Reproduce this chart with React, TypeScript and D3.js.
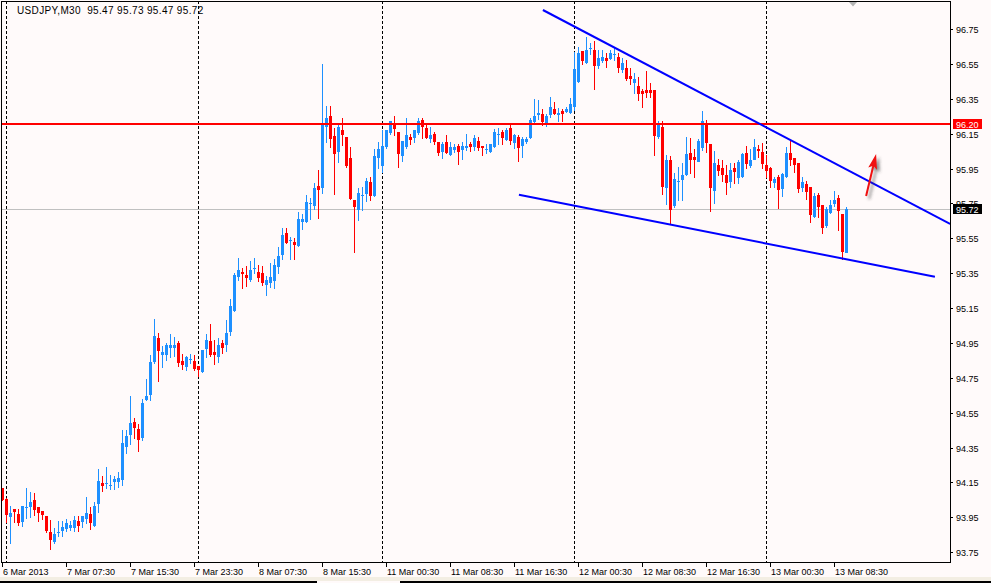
import { useRef, useEffect } from "react";
import * as d3 from "d3";

// USDJPY M30, one entry per bar (bar 0 = 6 Mar 23:30)
const title = "USDJPY,M30  95.47 95.73 95.47 95.72";

const opens = [
  94.12, 94.055, 93.953, 93.997, 93.969, 93.925, 94.005, 94.011, 94.049, 94.009,
  93.988, 93.959, 93.864, 93.81, 93.862, 93.873, 93.883, 93.89, 93.887, 93.929,
  93.925, 93.942, 93.969, 93.902, 94.024, 94.146, 94.143, 94.133, 94.152, 94.154,
  94.166, 94.355, 94.422, 94.496, 94.456, 94.406, 94.624, 94.653, 94.84, 94.978,
  94.882, 94.882, 94.92, 94.922, 94.949, 94.846, 94.813, 94.854, 94.846, 94.817,
  94.785, 94.915, 94.961, 94.896, 94.865, 94.948, 94.934, 95.015, 95.135, 95.326,
  95.359, 95.339, 95.311, 95.376, 95.357, 95.353, 95.282, 95.296, 95.307, 95.387,
  95.454, 95.58, 95.538, 95.531, 95.508, 95.643, 95.645, 95.748, 95.735, 95.85,
  95.834, 96.184, 96.251, 96.137, 96.047, 96.169, 96.131, 96.009, 95.768, 95.712,
  95.795, 95.802, 95.873, 95.791, 96.007, 95.967, 96.07, 96.156, 96.211, 96.161,
  96.02, 96.075, 96.133, 96.127, 96.156, 96.226, 96.184, 96.117, 96.149, 96.102,
  96.046, 96.1, 96.029, 96.056, 96.079, 96.056, 96.069, 96.09, 96.069, 96.107,
  96.079, 96.06, 96.046, 96.075, 96.144, 96.159, 96.113, 96.18, 96.098, 96.132,
  96.075, 96.102, 96.125, 96.218, 96.256, 96.262, 96.203, 96.256, 96.291, 96.256,
  96.281, 96.274, 96.27, 96.3, 96.446, 96.623, 96.556, 96.635, 96.629, 96.539,
  96.566, 96.583, 96.577, 96.6, 96.591, 96.514, 96.528, 96.48, 96.438, 96.423,
  96.396, 96.4, 96.4, 96.4, 96.126, 96.19, 95.836, 95.998, 95.735, 95.874,
  95.884, 95.912, 96.037, 96.014, 95.991, 96.065, 96.209, 96.09, 95.817, 95.97,
  95.951, 95.913, 95.874, 95.951, 95.899, 95.899, 96.041, 95.964, 96.003, 96.06,
  96.046, 95.97, 95.951, 95.869, 95.903, 95.831, 95.903, 96.037, 96.008, 95.983,
  95.842, 95.861, 95.846, 95.674, 95.798, 95.741, 95.617, 95.697, 95.746, 95.779,
  95.689, 95.47,
];

const highs = [
  94.12, 94.06, 94.015, 94.0, 93.997, 94.015, 94.12, 94.095, 94.089, 94.009,
  93.988, 93.959, 93.934, 93.887, 93.929, 93.929, 93.938, 93.929, 93.957, 93.957,
  93.957, 94.066, 94.011, 94.038, 94.227, 94.187, 94.238, 94.191, 94.189, 94.21,
  94.45, 94.45, 94.645, 94.519, 94.485, 94.63, 94.745, 94.882, 95.087, 95.006,
  94.932, 94.949, 95.0, 94.984, 94.961, 94.886, 94.875, 94.886, 94.88, 94.817,
  94.909, 95.0, 95.058, 94.967, 94.978, 94.967, 95.081, 95.202, 95.353, 95.437,
  95.378, 95.393, 95.42, 95.437, 95.397, 95.393, 95.334, 95.406, 95.431, 95.5,
  95.611, 95.609, 95.559, 95.553, 95.701, 95.691, 95.798, 95.781, 95.865, 95.941,
  96.549, 96.309, 96.309, 96.184, 96.2, 96.242, 96.131, 96.074, 95.768, 95.837,
  95.842, 95.898, 95.902, 96.062, 96.102, 96.173, 96.169, 96.223, 96.249, 96.161,
  96.108, 96.24, 96.146, 96.173, 96.242, 96.242, 96.209, 96.19, 96.161, 96.102,
  96.103, 96.142, 96.102, 96.09, 96.09, 96.1, 96.147, 96.103, 96.142, 96.13,
  96.079, 96.09, 96.09, 96.174, 96.182, 96.17, 96.182, 96.203, 96.147, 96.142,
  96.132, 96.132, 96.239, 96.348, 96.342, 96.289, 96.262, 96.36, 96.331, 96.298,
  96.291, 96.3, 96.356, 96.62, 96.644, 96.623, 96.702, 96.667, 96.681, 96.629,
  96.629, 96.61, 96.629, 96.642, 96.61, 96.585, 96.572, 96.528, 96.495, 96.472,
  96.404, 96.509, 96.442, 96.4, 96.224, 96.224, 96.027, 96.021, 95.922, 95.96,
  95.979, 96.128, 96.123, 96.06, 96.117, 96.281, 96.228, 96.09, 96.05, 96.003,
  95.999, 95.97, 95.98, 95.98, 95.999, 96.037, 96.079, 96.06, 96.119, 96.085,
  96.098, 96.027, 95.961, 95.903, 95.913, 95.922, 96.071, 96.11, 96.008, 95.983,
  95.903, 95.88, 95.846, 95.811, 95.811, 95.741, 95.731, 95.769, 95.819, 95.798,
  95.689, 95.73,
];

const lows = [
  94.05, 93.925, 93.804, 93.925, 93.906, 93.902, 93.948, 93.954, 93.963, 93.929,
  93.938, 93.864, 93.768, 93.804, 93.843, 93.843, 93.871, 93.875, 93.873, 93.873,
  93.892, 93.915, 93.885, 93.902, 93.982, 94.101, 94.116, 94.11, 94.112, 94.124,
  94.135, 94.317, 94.368, 94.406, 94.332, 94.395, 94.622, 94.624, 94.836, 94.733,
  94.813, 94.85, 94.869, 94.873, 94.815, 94.802, 94.792, 94.836, 94.796, 94.762,
  94.785, 94.871, 94.877, 94.827, 94.843, 94.894, 94.906, 94.995, 95.135, 95.311,
  95.267, 95.276, 95.307, 95.353, 95.303, 95.282, 95.225, 95.273, 95.267, 95.349,
  95.429, 95.521, 95.431, 95.431, 95.508, 95.605, 95.643, 95.662, 95.72, 95.668,
  95.808, 96.104, 96.074, 95.806, 95.99, 96.085, 95.961, 95.775, 95.473, 95.657,
  95.712, 95.766, 95.768, 95.791, 95.951, 95.928, 96.07, 96.15, 96.14, 95.957,
  95.995, 96.07, 96.093, 96.1, 96.146, 96.127, 96.126, 96.102, 96.088, 96.027,
  96.008, 96.037, 96.029, 96.046, 95.977, 96.006, 96.056, 96.05, 96.056, 96.056,
  96.027, 96.037, 96.046, 96.075, 96.092, 96.088, 96.113, 96.088, 96.065, 95.995,
  96.017, 96.098, 96.125, 96.218, 96.233, 96.199, 96.195, 96.247, 96.262, 96.222,
  96.224, 96.274, 96.27, 96.285, 96.446, 96.547, 96.556, 96.606, 96.405, 96.528,
  96.558, 96.53, 96.577, 96.572, 96.501, 96.501, 96.457, 96.434, 96.381, 96.342,
  96.304, 96.361, 96.361, 96.027, 96.126, 95.803, 95.746, 95.632, 95.731, 95.769,
  95.769, 95.912, 95.926, 95.899, 95.991, 96.056, 96.046, 95.708, 95.75, 95.913,
  95.88, 95.804, 95.846, 95.865, 95.865, 95.899, 95.951, 95.96, 96.003, 96.018,
  95.951, 95.903, 95.846, 95.846, 95.725, 95.792, 95.903, 95.97, 95.932, 95.817,
  95.823, 95.773, 95.645, 95.674, 95.674, 95.578, 95.617, 95.697, 95.735, 95.597,
  95.429, 95.47,
];

const closes = [
  94.05, 93.963, 93.976, 93.982, 93.915, 94.015, 94.009, 94.038, 93.992, 93.973,
  93.963, 93.873, 93.82, 93.854, 93.866, 93.894, 93.915, 93.906, 93.934, 93.9,
  93.957, 93.974, 93.915, 94.015, 94.158, 94.131, 94.146, 94.137, 94.17, 94.177,
  94.376, 94.416, 94.49, 94.464, 94.395, 94.605, 94.645, 94.84, 94.989, 94.903,
  94.898, 94.938, 94.938, 94.938, 94.836, 94.823, 94.869, 94.857, 94.802, 94.794,
  94.909, 94.966, 94.88, 94.877, 94.936, 94.917, 95.005, 95.162, 95.339, 95.368,
  95.347, 95.324, 95.368, 95.38, 95.324, 95.296, 95.311, 95.328, 95.397, 95.448,
  95.569, 95.525, 95.542, 95.511, 95.66, 95.66, 95.758, 95.752, 95.838, 95.829,
  96.203, 96.238, 96.118, 96.032, 96.188, 96.139, 95.967, 95.775, 95.726, 95.808,
  95.798, 95.879, 95.795, 96.022, 96.06, 96.079, 96.169, 96.223, 96.179, 96.032,
  96.108, 96.142, 96.116, 96.171, 96.223, 96.184, 96.126, 96.142, 96.103, 96.037,
  96.09, 96.037, 96.075, 96.075, 96.046, 96.081, 96.081, 96.073, 96.123, 96.069,
  96.069, 96.063, 96.09, 96.161, 96.147, 96.125, 96.172, 96.103, 96.142, 96.069,
  96.117, 96.119, 96.228, 96.251, 96.27, 96.218, 96.251, 96.3, 96.262, 96.268,
  96.262, 96.293, 96.32, 96.52, 96.61, 96.566, 96.629, 96.639, 96.539, 96.585,
  96.591, 96.568, 96.614, 96.604, 96.528, 96.553, 96.463, 96.463, 96.463, 96.377,
  96.381, 96.384, 96.384, 96.138, 96.203, 95.846, 95.998, 95.712, 95.891, 95.878,
  95.912, 96.033, 95.995, 95.995, 96.109, 96.22, 96.094, 95.836, 95.98, 95.937,
  95.913, 95.865, 95.941, 95.926, 95.989, 96.033, 95.98, 95.999, 96.075, 96.046,
  95.98, 95.936, 95.874, 95.89, 95.831, 95.918, 96.041, 95.995, 95.97, 95.836,
  95.874, 95.817, 95.683, 95.792, 95.727, 95.607, 95.716, 95.741, 95.769, 95.703,
  95.473, 95.72,
];

// right price axis
const priceTicks = [
  96.75, 96.55, 96.35, 96.15, 95.95, 95.75, 95.55, 95.35,
  95.15, 94.95, 94.75, 94.55, 94.35, 94.15, 93.95, 93.75,
];

// bottom time axis: bar index and text
const timeTickBars = [0, 16, 32, 48, 64, 80, 96, 112, 128, 144, 160, 176, 192, 208];
const timeTickLabels = [
  "6 Mar 2013", "7 Mar 07:30", "7 Mar 15:30", "7 Mar 23:30", "8 Mar 07:30",
  "8 Mar 15:30", "11 Mar 00:30", "11 Mar 08:30", "11 Mar 16:30", "12 Mar 00:30",
  "12 Mar 08:30", "12 Mar 16:30", "13 Mar 00:30", "13 Mar 08:30",
];

// first bar of each new day
const daySeparatorBars = [1, 49, 95, 143, 191];

const redLevel = 96.2;
const bidPrice = 95.72;

// [bar index, price] end points of drawn objects
const upperTrend: [number, number][] = [[135.1, 96.859], [236.9, 95.632]];
const lowerTrend: [number, number][] = [[129.1, 95.799], [233.1, 95.33]];
const arrowLine: [number, number][] = [[215.9, 95.792], [218.4, 96.033]];

export default function App() {
  const svgRef = useRef<SVGSVGElement>(null);
  const width = 991;
  const height = 583;

  useEffect(() => {
    if (!svgRef.current) return;
    const svg = d3.select(svgRef.current);
    svg.selectAll("*").remove();

    const plot = { left: 1, top: 1, right: 950, bottom: 562 };
    const font = "'Liberation Sans', Arial, sans-serif";

    const x = d3.scaleLinear().domain([0, 237]).range([2.5, 2.5 + 237 * 4]);
    const y = d3.scaleLinear().domain([93.75, 96.75]).range([552.2, 29]);

    svg.append("rect").attr("width", width).attr("height", height).attr("fill", "#FFFAFA");

    const defs = svg.append("defs");
    defs.append("clipPath").attr("id", "plotClip")
      .append("rect")
      .attr("x", plot.left + 0.5).attr("y", plot.top + 0.5)
      .attr("width", plot.right - plot.left - 0.5)
      .attr("height", plot.bottom - plot.top - 0.5);
    const blur = defs.append("filter").attr("id", "arrowShadow")
      .attr("x", "-50%").attr("y", "-50%").attr("width", "200%").attr("height", "200%");
    blur.append("feGaussianBlur").attr("stdDeviation", 1.6);

    const g = svg.append("g").attr("clip-path", "url(#plotClip)");

    // day separators
    g.append("g")
      .attr("shape-rendering", "crispEdges")
      .selectAll("line")
      .data(daySeparatorBars)
      .join("line")
      .attr("x1", (d) => Math.floor(x(d)) + 0.5)
      .attr("x2", (d) => Math.floor(x(d)) + 0.5)
      .attr("y1", plot.top)
      .attr("y2", plot.bottom)
      .attr("stroke", "#000")
      .attr("stroke-dasharray", "3,2");

    // bid line
    g.append("line")
      .attr("shape-rendering", "crispEdges")
      .attr("x1", plot.left).attr("x2", plot.right)
      .attr("y1", Math.round(y(bidPrice)) + 0.5).attr("y2", Math.round(y(bidPrice)) + 0.5)
      .attr("stroke", "#C0C0C0");

    // candles
    const bars = d3.range(opens.length).map((i) => ({
      i, o: opens[i], h: highs[i], l: lows[i], c: closes[i],
    }));
    const colour = (d: { o: number; c: number }) => (d.c >= d.o ? "#1E90FF" : "#FF0000");

    const candles = g.append("g").attr("shape-rendering", "crispEdges");
    candles.selectAll("line")
      .data(bars)
      .join("line")
      .attr("x1", (d) => x(d.i))
      .attr("x2", (d) => x(d.i))
      .attr("y1", (d) => Math.round(y(d.h)))
      .attr("y2", (d) => Math.round(y(d.l)) + 1)
      .attr("stroke", colour);
    candles.selectAll("rect")
      .data(bars)
      .join("rect")
      .attr("x", (d) => x(d.i) - 1.5)
      .attr("width", 3)
      .attr("y", (d) => Math.round(y(Math.max(d.o, d.c))))
      .attr("height", (d) => Math.max(1, Math.round(Math.abs(y(d.o) - y(d.c)))))
      .attr("fill", colour);

    // horizontal level
    const levelY = Math.round(y(redLevel)) - 1;
    g.append("line")
      .attr("shape-rendering", "crispEdges")
      .attr("x1", plot.left).attr("x2", plot.right)
      .attr("y1", levelY).attr("y2", levelY)
      .attr("stroke", "#FF0000")
      .attr("stroke-width", 2);

    // trend lines
    const line = d3.line<[number, number]>().x((d) => x(d[0])).y((d) => y(d[1]));
    [upperTrend, lowerTrend].forEach((t) => {
      g.append("path")
        .attr("d", line(t))
        .attr("fill", "none")
        .attr("stroke", "#0000FF")
        .attr("stroke-width", 2);
    });

    // arrow
    const [tx, ty] = [x(arrowLine[0][0]), y(arrowLine[0][1])];
    const [hx, hy] = [x(arrowLine[1][0]), y(arrowLine[1][1])];
    const len = Math.hypot(hx - tx, hy - ty);
    const ux = (hx - tx) / len;
    const uy = (hy - ty) / len;
    const headLen = 15;
    const headHalf = 4.5;
    const bx = hx - ux * headLen;
    const by = hy - uy * headLen;
    const head = [
      [hx, hy],
      [bx - uy * headHalf, by + ux * headHalf],
      [bx + ux * 3, by + uy * 3],
      [bx + uy * headHalf, by - ux * headHalf],
    ];
    const arrowG = (dx: number, dy: number, fill: string, filter?: string) => {
      const a = g.append("g").attr("transform", `translate(${dx},${dy})`);
      if (filter) a.attr("filter", filter);
      a.append("line")
        .attr("x1", tx).attr("y1", ty).attr("x2", bx + ux * 4).attr("y2", by + uy * 4)
        .attr("stroke", fill).attr("stroke-width", 2);
      a.append("path")
        .attr("d", "M" + head.map((p) => p.join(",")).join("L") + "Z")
        .attr("fill", fill);
    };
    arrowG(3, 3, "rgba(60,60,60,0.55)", "url(#arrowShadow)");
    arrowG(0, 0, "#F01010");

    // chart frame
    svg.append("rect")
      .attr("shape-rendering", "crispEdges")
      .attr("x", plot.left + 0.5).attr("y", plot.top + 0.5)
      .attr("width", plot.right - plot.left).attr("height", plot.bottom - plot.top)
      .attr("fill", "none").attr("stroke", "#000");

    // shift marker
    svg.append("path")
      .attr("d", "M849,2L857,2L853,6.5Z")
      .attr("fill", "#B4B4B4");

    // title
    svg.append("text")
      .attr("x", 17).attr("y", 13.5)
      .attr("font-family", font).attr("font-size", 10)
      .attr("letter-spacing", 0.35)
      .attr("fill", "#000")
      .attr("xml:space", "preserve")
      .style("white-space", "pre")
      .text(title);

    // price axis
    const pa = svg.append("g");
    pa.selectAll("line")
      .data(priceTicks)
      .join("line")
      .attr("shape-rendering", "crispEdges")
      .attr("x1", plot.right + 0.5).attr("x2", plot.right + 3)
      .attr("y1", (d) => Math.round(y(d)) + 0.5).attr("y2", (d) => Math.round(y(d)) + 0.5)
      .attr("stroke", "#000");
    pa.selectAll("text")
      .data(priceTicks)
      .join("text")
      .attr("x", 956)
      .attr("y", (d) => Math.round(y(d)) + 3.5)
      .attr("font-family", font).attr("font-size", 9)
      .attr("fill", "#000")
      .text((d) => d.toFixed(2));

    // price labels for the level and the bid
    const tag = (price: number, cy: number, fill: string) => {
      svg.append("rect")
        .attr("shape-rendering", "crispEdges")
        .attr("x", 953).attr("y", cy - 5).attr("width", 29).attr("height", 10)
        .attr("fill", fill);
      svg.append("text")
        .attr("x", 956).attr("y", cy + 3.5)
        .attr("font-family", font).attr("font-size", 9)
        .attr("fill", "#fff")
        .text(price.toFixed(2));
    };
    tag(redLevel, levelY, "#FF0000");
    tag(bidPrice, Math.round(y(bidPrice)), "#000000");

    // time axis
    const ta = svg.append("g");
    ta.selectAll("line")
      .data(timeTickBars)
      .join("line")
      .attr("shape-rendering", "crispEdges")
      .attr("x1", (d) => Math.floor(x(d)) + 0.5).attr("x2", (d) => Math.floor(x(d)) + 0.5)
      .attr("y1", plot.bottom + 0.5).attr("y2", plot.bottom + 5)
      .attr("stroke", "#000");
    ta.selectAll("text")
      .data(timeTickBars)
      .join("text")
      .attr("x", (d) => Math.floor(x(d)) + 1)
      .attr("y", 575)
      .attr("font-family", font).attr("font-size", 9)
      .attr("fill", "#000")
      .text((_, i) => timeTickLabels[i]);

    // terminal tab strip under the chart
    svg.append("rect").attr("x", 0).attr("y", 577).attr("width", width).attr("height", 4)
      .attr("fill", "#F3EEE3");
    svg.append("rect").attr("x", 0).attr("y", 581).attr("width", 317).attr("height", 2)
      .attr("fill", "#000");
    svg.append("rect").attr("x", 400).attr("y", 581).attr("width", width - 400).attr("height", 2)
      .attr("fill", "#000");
  }, []);

  return (
    <svg
      ref={svgRef}
      width={width}
      height={height}
      style={{ position: "absolute", left: 0, top: 0 }}
    />
  );
}
